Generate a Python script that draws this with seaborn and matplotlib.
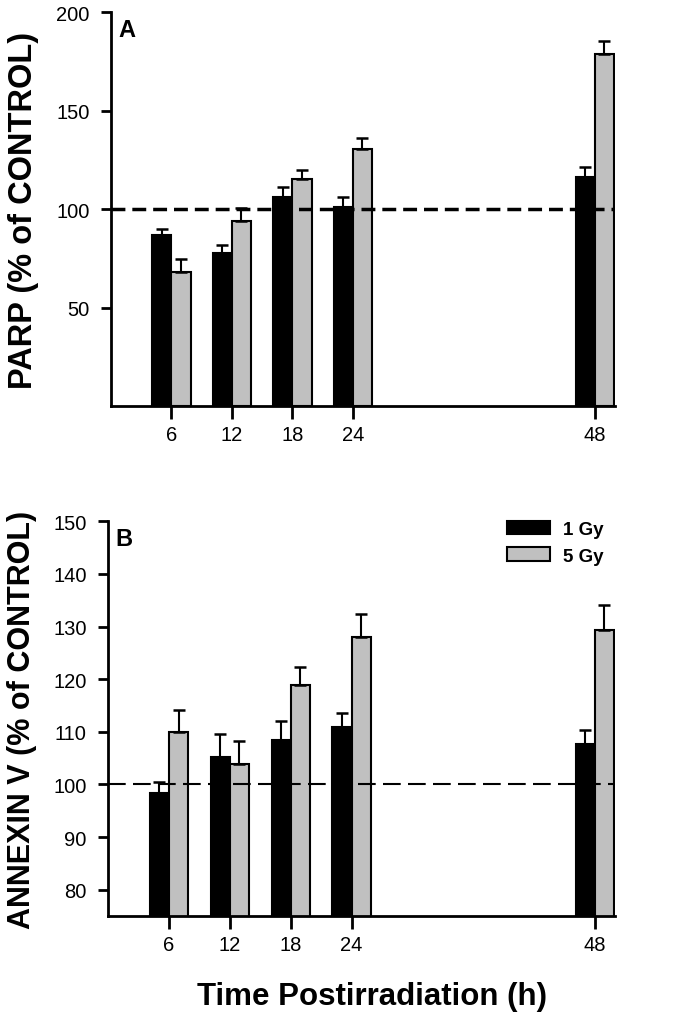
import numpy as np
import pandas as pd
import matplotlib
matplotlib.use('Agg')
import matplotlib.pyplot as plt
import seaborn as sns

# Data
times = [6, 12, 18, 24, 48]
doses = ["1 Gy", "5 Gy"]

parp_1gy = [86.8, 77.8, 106.4, 101.1, 116.5]
parp_5gy = [68.3, 94.1, 115.2, 130.5, 178.6]
parp_err_1gy = [3.0, 4.2, 4.9, 4.9, 5.0]
parp_err_5gy = [6.3, 6.7, 4.5, 5.7, 6.7]

annex_1gy = [98.4, 105.3, 108.5, 110.9, 107.6]
annex_5gy = [110.0, 103.8, 118.8, 128.1, 129.3]
annex_err_1gy = [2.0, 4.2, 3.6, 2.6, 2.7]
annex_err_5gy = [4.2, 4.5, 3.5, 4.3, 4.7]

palette = {"1 Gy": "#000000", "5 Gy": "#c0c0c0"}

sns.set_style("ticks")
plt.rcParams['font.family'] = ['Liberation Sans', 'DejaVu Sans']
for k in ["text.color", "axes.labelcolor", "xtick.color", "ytick.color", "axes.edgecolor"]:
    plt.rcParams[k] = "black"


def make_df(v1, v5):
    return pd.DataFrame({
        "time": times * 2,
        "value": v1 + v5,
        "dose": [doses[0]] * len(times) + [doses[1]] * len(times),
    })


def draw_panel(ax, v1, v5, e1, e5, ylim, yticks, ylabel, ylabel_size, letter,
               dash, dash_lw, legend):
    df = make_df(v1, v5)
    sns.barplot(data=df, x="time", y="value", hue="dose", native_scale=True,
                palette=palette, hue_order=doses, width=0.63, errorbar=None,
                edgecolor="black", linewidth=1.5, legend=legend, ax=ax)

    # one-sided error bars on top of each bar
    for cont, errs in zip(ax.containers, [e1, e5]):
        xs = [p.get_x() + p.get_width() / 2 for p in cont.patches]
        hs = [p.get_height() for p in cont.patches]
        ax.errorbar(xs, hs, yerr=[np.zeros(len(errs)), errs], fmt="none",
                    ecolor="black", elinewidth=1.5, capsize=4.5, capthick=1.8, zorder=1)

    ax.axhline(100, color="black", linestyle=(0, dash), linewidth=dash_lw, zorder=5)

    ax.set_xlim(0, 50)
    ax.set_ylim(*ylim)
    ax.set_xticks(times)
    ax.set_xticklabels([str(t) for t in times])
    ax.set_yticks(yticks)
    ax.tick_params(axis="x", direction="out", length=9, width=2, labelsize=14.5, pad=5)
    ax.tick_params(axis="y", direction="out", length=7.5, width=2, labelsize=14.5, pad=8)
    for s in ["left", "bottom"]:
        ax.spines[s].set_linewidth(2)
    sns.despine(ax=ax)
    ax.set_xlabel("")
    ax.set_ylabel(ylabel, fontsize=ylabel_size, fontweight="bold", labelpad=12)
    ax.text(0.014, 0.985, letter, transform=ax.transAxes, fontsize=17,
            fontweight="bold", va="top", ha="left")

    if legend:
        ax.legend(loc="upper right", bbox_to_anchor=(1.0, 1.03), frameon=False,
                  prop={"weight": "bold", "size": 13.5}, handlelength=2.3,
                  handleheight=0.75, handletextpad=0.7, labelspacing=0.5,
                  borderaxespad=0.2)


fig = plt.figure(figsize=(6.85, 10.2), dpi=100)
ax_a = fig.add_axes([0.162, 0.601, 0.736, 0.386])
ax_b = fig.add_axes([0.158, 0.101, 0.740, 0.387])

draw_panel(ax_a, parp_1gy, parp_5gy, parp_err_1gy, parp_err_5gy,
           (0, 200), [50, 100, 150, 200], "PARP (% of CONTROL)", 23.5, "A",
           (4.0, 2.0), 2.5, False)
draw_panel(ax_b, annex_1gy, annex_5gy, annex_err_1gy, annex_err_5gy,
           (75, 150), [80, 90, 100, 110, 120, 130, 140, 150],
           "ANNEXIN V (% of CONTROL)", 22, "B", (8.5, 3.5), 1.5, True)

ax_b.set_xlabel("Time Postirradiation (h)", fontsize=22.5, fontweight="bold",
                labelpad=19, x=0.52)

fig.savefig("out.png", dpi=100)
plt.close(fig)
